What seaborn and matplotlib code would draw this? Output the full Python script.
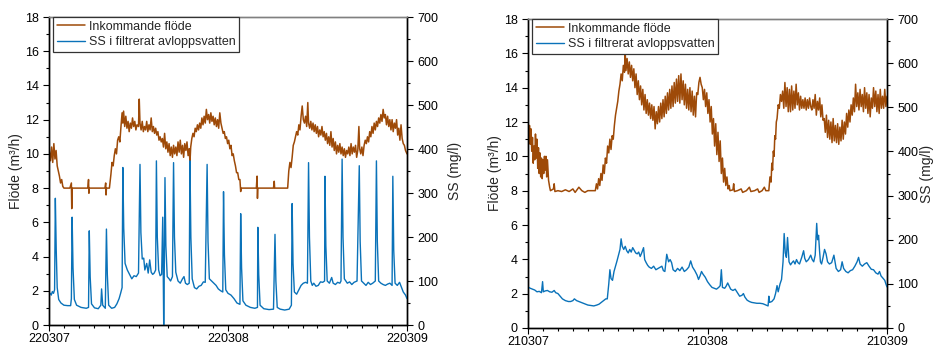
import matplotlib
matplotlib.use("Agg")
import matplotlib.pyplot as plt
from matplotlib.ticker import MultipleLocator
import seaborn as sns
import pandas as pd

# ---------------- data (hours since start of first day) ----------------
left_flow_t = [0.0,0.2,0.35,0.5,0.65,0.8,0.95,1.1,1.25,1.4,1.55,1.7,1.85,2.0,2.8,3.0,3.05,3.1,4.0,5.2,5.3,5.35,5.4,6.5,7.5,7.6,7.65,7.7,8.1,8.3,8.45,8.6,8.75,8.9,9.05,9.2,9.35,9.5,9.65,9.8,9.9,10.0,10.15,10.3,10.45,10.6,10.75,10.9,11.05,11.2,11.35,11.5,11.65,11.8,12.0,12.1,12.2,12.35,12.5,12.65,12.8,12.95,13.1,13.25,13.4,13.55,13.7,13.85,14.0,14.15,14.3,14.45,14.6,14.75,14.9,15.05,15.2,15.35,15.5,15.65,15.8,15.95,16.1,16.25,16.4,16.55,16.7,16.85,17.0,17.15,17.3,17.45,17.6,17.75,17.9,18.05,18.2,18.35,18.5,18.65,18.8,18.9,19.0,19.15,19.3,19.45,19.6,19.75,19.9,20.05,20.2,20.35,20.5,20.65,20.8,20.95,21.1,21.25,21.4,21.55,21.7,21.85,22.0,22.15,22.3,22.45,22.6,22.75,22.9,23.05,23.2,23.35,23.5,23.65,23.8,23.95,24.1,24.25,24.4,24.55,24.7,24.85,25.0,25.15,25.3,25.45,25.6,25.7,25.75,27.8,27.9,27.95,28.0,30.1,30.2,30.25,32.0,32.15,32.3,32.45,32.6,32.75,32.9,33.05,33.2,33.35,33.5,33.65,33.8,33.95,34.1,34.25,34.4,34.55,34.7,34.8,34.95,35.1,35.25,35.4,35.55,35.7,35.85,36.0,36.15,36.3,36.45,36.6,36.75,36.9,37.05,37.2,37.35,37.5,37.65,37.8,37.95,38.1,38.25,38.4,38.55,38.7,38.85,39.0,39.15,39.3,39.45,39.6,39.75,39.9,40.05,40.2,40.35,40.5,40.65,40.8,40.95,41.1,41.25,41.4,41.55,41.65,41.8,41.95,42.1,42.25,42.4,42.55,42.7,42.85,43.0,43.15,43.3,43.45,43.6,43.75,43.9,44.05,44.2,44.35,44.5,44.65,44.8,44.95,45.1,45.25,45.4,45.55,45.7,45.85,46.0,46.15,46.3,46.45,46.6,46.75,46.9,47.05,47.2,47.35,47.5,47.65,47.8,48.0]
left_flow_v = [10.3,9.6,10.4,9.5,10.6,9.7,10.2,9.3,9.0,8.7,8.3,8.5,8.1,8.0,8.0,8.3,6.8,8.0,8.0,8.0,8.5,7.7,8.0,8.0,8.0,8.3,7.6,8.0,8.0,8.8,9.5,9.3,9.9,10.3,10.0,10.8,11.0,10.7,11.6,12.4,11.8,12.5,11.6,12.2,11.5,11.9,11.3,11.8,11.5,12.1,11.6,11.9,11.4,11.7,11.6,13.2,11.8,11.4,11.9,11.3,11.6,11.4,11.9,11.3,11.7,11.4,12.1,11.3,11.6,11.2,11.5,11.1,11.3,10.8,11.0,10.7,10.9,10.4,11.2,10.3,10.7,10.1,10.6,9.9,10.4,9.8,10.5,10.0,10.4,9.9,10.7,10.1,10.8,10.0,10.5,9.8,10.6,10.2,10.7,9.9,10.3,9.5,10.4,10.9,11.2,11.0,11.5,11.3,11.7,11.4,11.8,11.5,12.1,11.7,12.2,11.8,12.6,12.0,12.3,11.8,12.4,11.9,12.2,11.7,12.1,11.6,12.0,11.5,12.4,11.8,11.5,11.2,11.3,10.9,11.0,10.6,10.8,10.3,10.5,9.9,10.0,9.6,9.3,8.9,8.9,8.5,8.5,7.8,8.0,8.0,8.7,7.4,8.0,8.0,8.4,8.0,8.0,9.0,9.5,9.2,9.8,10.5,10.7,11.0,11.3,11.1,11.7,11.4,12.2,12.8,12.0,11.8,12.2,11.6,13.0,11.8,11.5,11.9,11.4,11.8,11.3,11.7,11.2,11.6,11.0,11.4,11.1,11.6,11.0,11.3,10.8,11.2,10.6,11.0,10.5,11.3,10.4,10.9,10.2,10.7,10.0,10.5,10.1,10.6,10.0,10.4,9.9,10.3,9.8,10.2,10.0,10.4,9.9,10.6,10.0,10.4,10.1,10.5,9.8,10.2,11.6,10.3,10.0,10.4,9.9,10.5,10.8,10.6,11.0,10.7,11.3,11.0,11.6,11.2,11.8,11.4,11.9,11.6,12.1,11.8,12.3,11.9,12.6,12.1,12.3,11.7,12.2,11.6,12.0,11.4,12.0,11.3,11.8,11.5,12.0,11.1,11.5,10.8,11.7,10.9,10.6,10.5,10.2,10.0]

left_ss_t = [0.0,0.15,0.3,0.45,0.6,0.75,0.85,0.97,1.1,1.3,1.6,2.0,2.5,2.9,3.0,3.1,3.22,3.4,3.7,4.3,5.0,5.3,5.4,5.52,5.7,6.1,6.6,6.95,7.05,7.2,7.55,7.7,7.82,8.0,8.4,8.8,9.1,9.4,9.6,9.8,9.9,10.02,10.2,10.5,10.8,11.1,11.4,11.7,12.0,12.2,12.32,12.5,12.7,12.85,13.1,13.3,13.5,13.7,13.9,14.1,14.3,14.4,14.52,14.7,14.9,15.1,15.25,15.32,15.38,15.45,15.55,15.67,15.85,16.1,16.3,16.55,16.7,16.82,17.0,17.3,17.6,17.9,18.1,18.3,18.55,18.8,18.9,19.02,19.2,19.5,19.8,20.1,20.4,20.7,20.95,21.2,21.32,21.5,21.8,22.1,22.4,22.7,23.0,23.3,23.4,23.52,23.7,24.0,24.4,24.8,25.2,25.6,25.7,25.82,26.0,26.4,27.0,27.6,27.95,28.0,28.12,28.3,28.8,29.5,30.1,30.3,30.42,30.6,31.0,31.6,32.2,32.5,32.6,32.72,32.9,33.2,33.5,33.8,34.1,34.4,34.65,34.8,34.92,35.1,35.3,35.5,35.8,36.1,36.4,36.7,36.95,37.0,37.12,37.3,37.6,37.9,38.1,38.4,38.7,39.0,39.15,39.3,39.42,39.6,39.8,40.0,40.3,40.6,40.9,41.3,41.6,41.72,41.9,42.2,42.5,42.8,43.1,43.4,43.75,43.9,44.02,44.2,44.5,44.8,45.1,45.4,45.7,46.0,46.1,46.22,46.4,46.7,47.0,47.2,47.5,47.8,48.0]
left_ss_v = [70,72,68,76,72,80,288,170,85,58,50,45,44,44,60,245,130,58,45,40,38,40,214,110,48,39,37,45,82,45,38,218,115,45,38,40,48,60,72,85,358,220,140,125,115,105,112,110,118,365,210,150,152,125,140,118,148,120,115,118,125,373,200,125,112,115,245,110,0,110,335,180,110,105,100,110,369,200,120,100,95,105,110,95,92,95,373,200,105,85,82,88,90,98,97,365,190,105,100,95,90,82,78,75,303,160,80,72,68,60,50,47,253,130,55,45,40,38,40,222,115,45,37,35,36,206,100,40,36,34,36,45,276,140,75,70,80,90,95,97,95,369,200,100,90,95,88,90,98,97,100,338,180,100,95,108,95,92,97,95,100,377,200,105,100,95,98,92,97,100,362,190,100,95,90,97,92,95,100,373,190,100,95,92,90,93,95,90,338,170,95,90,97,88,75,68,60]

right_flow_t = [0.0,0.1,0.2,0.3,0.4,0.5,0.6,0.7,0.8,0.9,1.0,1.1,1.2,1.3,1.4,1.5,1.6,1.7,1.8,1.9,2.0,2.1,2.2,2.3,2.4,2.5,2.6,2.75,2.9,3.0,3.4,3.5,3.6,4.0,4.5,5.0,5.5,6.0,6.3,6.8,7.2,7.6,8.0,8.5,9.0,9.15,9.3,9.45,9.6,9.75,9.9,10.05,10.2,10.35,10.5,10.65,10.8,10.95,11.1,11.25,11.4,11.55,11.7,11.85,12.0,12.15,12.3,12.45,12.6,12.75,12.9,13.0,13.1,13.25,13.4,13.55,13.7,13.85,14.0,14.15,14.3,14.45,14.6,14.75,14.9,15.05,15.2,15.35,15.5,15.65,15.8,15.95,16.1,16.25,16.4,16.55,16.7,16.85,17.0,17.15,17.3,17.45,17.6,17.75,17.9,18.05,18.2,18.35,18.5,18.65,18.8,18.95,19.1,19.25,19.4,19.55,19.7,19.85,20.0,20.15,20.3,20.45,20.6,20.75,20.9,21.05,21.2,21.35,21.5,21.65,21.8,21.95,22.1,22.25,22.4,22.55,22.7,22.85,23.0,23.15,23.3,23.45,23.6,23.75,23.9,24.05,24.2,24.35,24.5,24.65,24.8,24.95,25.1,25.25,25.4,25.55,25.7,25.85,26.0,26.15,26.3,26.45,26.6,26.75,26.9,27.0,27.4,27.5,27.6,28.0,28.5,28.7,29.2,29.6,29.8,30.3,30.7,30.9,31.3,31.6,31.8,32.2,32.35,32.5,32.6,32.7,32.8,32.9,33.0,33.1,33.2,33.3,33.45,33.6,33.75,33.9,34.05,34.2,34.35,34.5,34.65,34.8,34.95,35.1,35.25,35.4,35.55,35.7,35.85,36.0,36.15,36.3,36.45,36.6,36.75,36.9,37.05,37.2,37.35,37.5,37.65,37.8,37.95,38.1,38.25,38.4,38.55,38.7,38.85,39.0,39.15,39.3,39.45,39.6,39.75,39.9,40.05,40.2,40.35,40.5,40.65,40.8,40.95,41.1,41.25,41.4,41.55,41.7,41.85,42.0,42.15,42.3,42.45,42.6,42.75,42.9,43.05,43.2,43.35,43.5,43.65,43.8,43.95,44.1,44.25,44.4,44.55,44.7,44.85,45.0,45.15,45.3,45.45,45.6,45.75,45.9,46.05,46.2,46.35,46.5,46.65,46.8,46.95,47.1,47.25,47.4,47.55,47.7,47.85,48.0]
right_flow_v = [12.0,11.0,11.8,10.7,11.6,10.3,11.1,9.6,10.6,9.8,11.3,9.9,11.0,9.3,10.5,9.0,10.2,8.8,9.9,8.7,9.8,9.0,10.0,9.2,10.0,8.8,9.8,8.6,8.2,8.0,8.1,8.4,7.95,8.0,7.95,8.05,7.95,8.1,7.9,8.2,8.0,7.9,8.0,8.0,8.0,8.4,8.1,8.7,8.3,9.0,8.6,9.5,9.0,9.9,9.6,10.6,10.2,11.0,10.4,11.2,11.0,11.8,12.4,12.8,13.2,13.8,14.2,14.8,14.4,15.3,14.9,16.0,15.0,15.7,14.8,15.5,14.6,15.3,14.4,15.1,14.0,14.8,13.6,14.4,13.3,14.1,13.0,13.9,12.7,13.6,12.5,13.3,12.4,13.1,12.2,13.0,12.1,12.9,11.6,12.6,11.9,12.9,12.0,13.1,12.2,13.3,12.3,13.5,12.5,13.7,12.7,13.9,12.8,14.1,12.9,14.3,13.1,14.5,13.2,14.7,13.1,14.8,13.3,14.4,13.0,14.2,12.8,13.9,12.7,14.0,12.6,13.8,12.4,13.5,12.3,13.7,13.6,14.3,14.6,14.2,14.0,13.3,13.9,12.9,13.7,12.5,13.3,12.0,12.9,11.3,12.2,10.6,11.9,10.1,11.4,9.7,10.9,9.0,9.9,8.5,9.3,8.3,8.8,8.1,8.3,8.0,8.05,8.4,7.95,8.0,8.1,7.9,8.0,8.2,7.95,8.0,8.1,7.9,8.0,8.2,8.0,8.0,8.8,8.5,9.6,9.2,10.3,10.0,11.2,11.0,12.0,12.2,13.0,12.8,13.6,13.2,13.8,12.8,14.3,12.9,14.0,12.6,13.9,12.6,14.1,12.7,13.8,12.8,14.2,13.0,13.7,12.7,13.5,12.8,13.3,12.8,13.4,12.7,13.3,12.8,13.4,12.9,12.7,13.3,12.8,13.6,12.4,13.2,12.7,13.4,12.3,13.0,12.1,12.2,11.4,12.4,11.1,12.1,11.0,12.0,10.8,12.2,10.9,11.8,10.8,11.9,10.7,11.7,10.9,12.1,11.0,12.0,11.3,12.5,11.7,12.7,12.0,13.0,12.4,13.4,12.6,14.2,12.9,13.7,12.7,13.9,12.9,13.6,12.6,14.0,12.8,13.7,12.5,13.6,12.3,13.4,12.8,14.0,12.9,13.8,12.6,13.6,12.5,13.9,12.8,13.5,12.8,13.9,12.9,13.5]

right_ss_t = [0.0,0.3,0.6,0.9,1.2,1.5,1.8,1.95,2.05,2.3,2.6,2.9,3.2,3.5,3.7,4.0,4.3,4.6,5.0,5.4,5.7,6.0,6.2,6.5,6.8,7.1,7.4,7.7,8.0,8.4,8.8,9.2,9.5,9.8,10.1,10.4,10.6,10.8,10.95,11.1,11.3,11.5,11.7,11.9,12.1,12.3,12.45,12.6,12.8,13.0,13.2,13.4,13.6,13.8,14.0,14.2,14.4,14.6,14.8,15.0,15.2,15.45,15.6,15.8,16.0,16.2,16.5,16.8,17.1,17.4,17.7,17.9,18.1,18.3,18.55,18.8,19.0,19.2,19.4,19.7,20.0,20.3,20.6,20.9,21.2,21.5,21.75,22.0,22.3,22.6,22.8,23.0,23.2,23.4,23.7,24.0,24.3,24.6,24.9,25.2,25.5,25.7,25.85,26.0,26.3,26.5,26.7,26.9,27.1,27.4,27.7,28.0,28.3,28.6,28.8,29.0,29.3,29.6,29.9,30.3,30.6,31.0,31.4,31.8,32.1,32.2,32.3,32.6,32.9,33.1,33.3,33.45,33.7,33.9,34.1,34.25,34.4,34.55,34.7,34.9,35.1,35.3,35.5,35.7,35.9,36.1,36.3,36.6,36.85,37.0,37.2,37.5,37.8,38.0,38.2,38.4,38.6,38.72,38.85,38.98,39.1,39.25,39.45,39.65,39.85,40.05,40.3,40.6,40.9,41.2,41.5,41.8,42.0,42.2,42.5,42.8,43.1,43.4,43.7,44.0,44.2,44.4,44.7,45.0,45.3,45.6,45.9,46.2,46.5,46.8,47.0,47.2,47.5,47.7,47.85,48.0]
right_ss_v = [93,90,88,86,82,83,80,105,82,84,85,82,81,85,80,78,72,66,62,60,60,62,66,62,60,58,56,54,52,51,50,52,54,58,62,66,66,100,132,112,108,128,140,152,165,178,202,185,178,185,175,170,178,172,182,176,170,168,172,162,170,182,155,148,142,138,135,140,132,135,138,140,130,128,167,150,155,148,132,128,135,130,138,128,132,138,152,138,130,120,110,118,128,122,115,105,98,92,90,88,92,96,132,92,90,95,102,95,88,85,88,80,72,74,78,70,63,60,58,57,56,56,55,52,50,72,58,60,66,78,96,82,100,110,150,214,170,160,205,150,143,148,152,145,155,148,145,160,175,158,150,155,165,155,150,165,237,200,210,175,150,145,160,178,168,150,145,148,165,135,128,132,150,135,128,125,130,132,140,150,160,145,140,145,148,140,133,132,125,122,128,118,112,108,100,93]

left_xticklabels = ["220307", "220308", "220309"]
right_xticklabels = ["210307", "210308", "210309"]
xtick_pos = [0, 24, 48]
flow_label = "Inkommande flöde"
ss_label = "SS i filtrerat avloppsvatten"

# ---------------- style ----------------
sns.set_style("ticks")
plt.rcParams["font.family"] = ["Liberation Sans", "DejaVu Sans"]
plt.rcParams["font.size"] = 9

BROWN = "#9E4A08"
BLUE = "#0A72B9"

fig = plt.figure(figsize=(9.36, 3.46), dpi=100)
ax_l = fig.add_axes([49/936, 1-325/346, (407-49)/936, (325-17)/346])
ax_r = fig.add_axes([528/936, 1-328/346, (887-528)/936, (328-19)/346])

panels = [
    (ax_l, left_flow_t, left_flow_v, left_ss_t, left_ss_v, left_xticklabels, -0.073, 1.115),
    (ax_r, right_flow_t, right_flow_v, right_ss_t, right_ss_v, right_xticklabels, -0.072, 1.093),
]

for ax, ft, fv, st, sv, xl, ylx, y2x in panels:
    ax2 = ax.twinx()
    df_f = pd.DataFrame({"t": ft, "v": fv})
    df_s = pd.DataFrame({"t": st, "v": sv})
    sns.lineplot(data=df_f, x="t", y="v", ax=ax, color=BROWN, lw=1.1,
                 estimator=None, sort=False, label=flow_label, legend=False)
    sns.lineplot(data=df_s, x="t", y="v", ax=ax2, color=BLUE, lw=1.0,
                 estimator=None, sort=False, label=ss_label, legend=False)
    ax.set_xlim(0, 48)
    ax.set_ylim(0, 18)
    ax2.set_ylim(0, 700)
    ax.set_xticks(xtick_pos)
    ax.set_xticklabels(xl)
    ax.xaxis.set_minor_locator(MultipleLocator(2))
    ax.yaxis.set_major_locator(MultipleLocator(2))
    ax.yaxis.set_minor_locator(MultipleLocator(1))
    ax2.yaxis.set_major_locator(MultipleLocator(100))
    ax2.yaxis.set_minor_locator(MultipleLocator(50))
    ax.set_xlabel("")
    ax.set_ylabel("Flöde (m³/h)", fontsize=10)
    ax2.set_ylabel("SS (mg/l)", fontsize=10)
    ax.yaxis.set_label_coords(ylx, 0.5)
    ax2.yaxis.set_label_coords(y2x, 0.5)
    for a in (ax, ax2):
        a.tick_params(which="both", direction="out", colors="black", labelsize=9, width=0.8)
        a.tick_params(which="major", length=4)
        a.tick_params(which="minor", length=2)
        for s in ("left", "right", "bottom"):
            a.spines[s].set_color("black")
            a.spines[s].set_linewidth(1.0)
        a.spines["top"].set_visible(True)
        a.spines["top"].set_color("#808080")
        a.spines["top"].set_linewidth(1.0)
    ax.tick_params(which="both", top=False, right=False)
    ax2.tick_params(which="both", top=False, left=False, right=True)
    ax.tick_params(axis="x", pad=1.5)
    h1, l1 = ax.get_legend_handles_labels()
    h2, l2 = ax2.get_legend_handles_labels()
    leg = ax2.legend(h1 + h2, l1 + l2, loc="upper left", bbox_to_anchor=(0.012, 1.0),
                     borderaxespad=0, fancybox=False, framealpha=1, edgecolor="#333333",
                     fontsize=9, borderpad=0.3, labelspacing=0.3, handlelength=2.2,
                     handletextpad=0.35)
    leg.get_frame().set_linewidth(0.9)

fig.savefig("out.png", dpi=100)
